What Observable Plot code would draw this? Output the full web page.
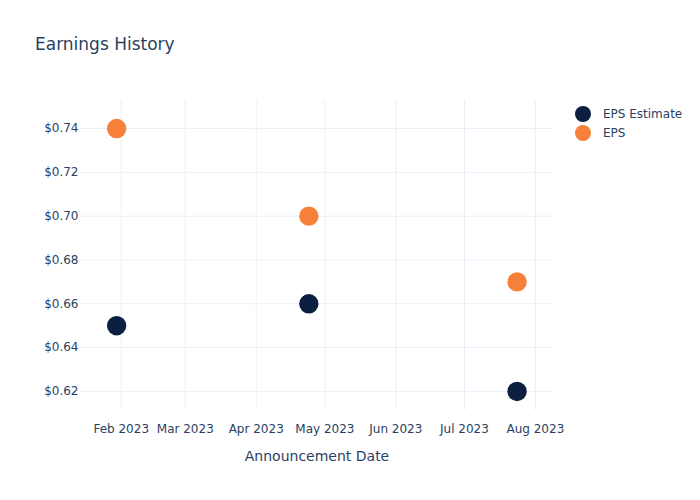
<!DOCTYPE html>
<html>
<head>
<meta charset="utf-8">
<script src="https://cdn.jsdelivr.net/npm/d3@7"></script>
<script src="https://cdn.jsdelivr.net/npm/@observablehq/plot@0.6"></script>
<style>
  html, body { margin: 0; padding: 0; background: #fff; }
  #wrap { position: relative; width: 700px; height: 500px; font-family: "DejaVu Sans", sans-serif; color: #2a3f5f; }
  #title { position: absolute; left: 35px; top: 34px; font-size: 17px; }
  .leg { position: absolute; left: 575px; font-size: 12px; display: flex; align-items: center; }
  .leg span.dot { display: inline-block; width: 16px; height: 16px; border-radius: 50%; margin-right: 12px; }
</style>
</head>
<body>
<div id="wrap">
  <div id="title">Earnings History</div>
  <div class="leg" style="top:106px"><span class="dot" style="background:#0c1f40"></span>EPS Estimate</div>
  <div class="leg" style="top:125px"><span class="dot" style="background:#f7813a"></span>EPS</div>
</div>
<script>
const announcementDates = ["2023-01-30", "2023-04-24", "2023-07-24"];
const epsEstimate = [0.65, 0.66, 0.62];
const epsActual = [0.74, 0.70, 0.67];
const yTicks = [0.62, 0.64, 0.66, 0.68, 0.70, 0.72, 0.74];
const xTicks = ["2023-02-01", "2023-03-01", "2023-04-01", "2023-05-01", "2023-06-01", "2023-07-01", "2023-08-01"];

const parse = d3.utcParse("%Y-%m-%d");
const est = announcementDates.map((d, i) => ({date: parse(d), value: epsEstimate[i]}));
const act = announcementDates.map((d, i) => ({date: parse(d), value: epsActual[i]}));
const xt = xTicks.map(parse);

const chart = Plot.plot({
  width: 700,
  height: 500,
  marginLeft: 80,
  marginRight: 147,
  marginTop: 100,
  marginBottom: 90,
  style: {fontFamily: "DejaVu Sans, sans-serif", fontSize: "12px", color: "#2a3f5f", background: "transparent"},
  x: {type: "utc", domain: [new Date(Date.UTC(2023, 0, 14, 5)), new Date(Date.UTC(2023, 7, 8, 22))]},
  y: {domain: [0.6113, 0.7528]},
  marks: [
    Plot.gridX(xt, {stroke: "#ebf0f8", strokeOpacity: 1}),
    Plot.gridY(yTicks, {stroke: "#ebf0f8", strokeOpacity: 1}),
    Plot.axisX({ticks: xt, tickFormat: d3.utcFormat("%b %Y"), tickSize: 0, tickPadding: 14, label: "Announcement Date", labelAnchor: "center", labelOffset: 50, labelArrow: "none", fontSize: 12}),
    Plot.axisY({ticks: yTicks, tickFormat: d => "$" + d.toFixed(2), tickSize: 0, tickPadding: 2, label: null}),
    Plot.dot(est, {x: "date", y: "value", r: 9.7, fill: "#0c1f40"}),
    Plot.dot(act, {x: "date", y: "value", r: 9.7, fill: "#f7813a"})
  ]
});
chart.style.position = "absolute";
chart.style.left = "0";
chart.style.top = "0";
chart.querySelectorAll("[aria-label='x-axis label'] text, [aria-label='x-axis label']").forEach(e => e.setAttribute("font-size", "14"));
document.getElementById("wrap").prepend(chart);
</script>
</body>
</html>
